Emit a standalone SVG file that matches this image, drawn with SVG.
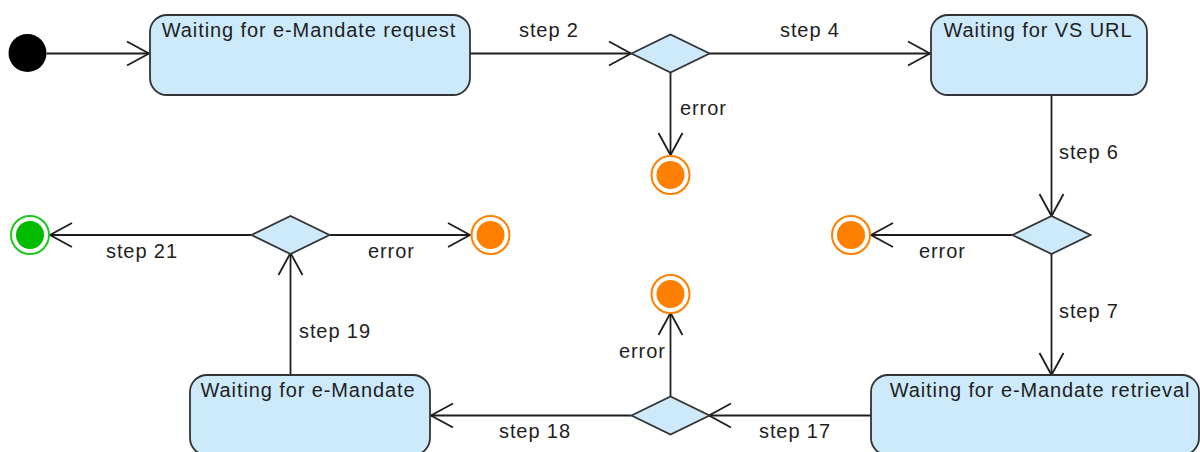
<svg xmlns="http://www.w3.org/2000/svg" width="1200" height="452" viewBox="0 0 1200 452">
  <defs>
    <style>
      .state { fill: #cdeafd; stroke: #333333; stroke-width: 1.8; }
      .decision { fill: #cdeafd; stroke: #333333; stroke-width: 1.8; }
      .edge { fill: none; stroke: #1e1e1e; stroke-width: 1.8; marker-end: url(#open-arrow); }
      .name { font-family: "Liberation Sans", Arial, sans-serif; font-size: 20px; letter-spacing: 0.9px; fill: #1e1e1e; text-anchor: middle; }
      .label { font-family: "Liberation Sans", Arial, sans-serif; font-size: 20px; letter-spacing: 0.9px; fill: #1e1e1e; }
      .err-ring { fill: #ffffff; stroke: #ff8000; stroke-width: 2; }
      .err-dot { fill: #ff8000; }
      .ok-ring { fill: #ffffff; stroke: #22c422; stroke-width: 2; }
      .ok-dot { fill: #00bb00; }
    </style>
    <marker id="open-arrow" markerUnits="userSpaceOnUse" viewBox="-26 -15 28 30" refX="0" refY="0" markerWidth="28" markerHeight="30" orient="auto" overflow="visible">
      <path d="M -22 -12 L 0 0 L -22 12" fill="none" stroke="#1e1e1e" stroke-width="1.8"/>
    </marker>
  </defs>

  <!-- transitions -->
  <g id="connectors">
    <path class="edge" d="M 46.5 53.5 L 149 53.5"/>
    <path class="edge" d="M 470 53.5 L 631 53.5"/>
    <path class="edge" d="M 709 53.5 L 930 53.5"/>
    <path class="edge" d="M 670.5 72.5 L 670.5 155"/>
    <path class="edge" d="M 1051.5 95 L 1051.5 216"/>
    <path class="edge" d="M 1012.5 235 L 871 235"/>
    <path class="edge" d="M 1051.5 254 L 1051.5 375"/>
    <path class="edge" d="M 871 415.5 L 709 415.5"/>
    <path class="edge" d="M 670.5 396.5 L 670.5 313"/>
    <path class="edge" d="M 631.5 415.5 L 431 415.5"/>
    <path class="edge" d="M 290.5 375 L 290.5 253"/>
    <path class="edge" d="M 251.5 235 L 50 235"/>
    <path class="edge" d="M 329.5 235 L 470 235"/>

    <text class="label" x="519" y="37">step 2</text>
    <text class="label" x="780" y="37">step 4</text>
    <text class="label" x="680" y="115">error</text>
    <text class="label" x="1059" y="159">step 6</text>
    <text class="label" x="919" y="258">error</text>
    <text class="label" x="1059" y="318">step 7</text>
    <text class="label" x="759" y="438">step 17</text>
    <text class="label" x="619" y="358">error</text>
    <text class="label" x="499" y="438">step 18</text>
    <text class="label" x="299" y="338">step 19</text>
    <text class="label" x="106" y="258">step 21</text>
    <text class="label" x="368" y="258">error</text>
  </g>

  <!-- initial pseudo-state -->
  <g id="start">
    <circle cx="27.5" cy="53" r="19" fill="#000000"/>
  </g>

  <!-- states -->
  <g id="waiting-request">
    <rect class="state" x="150" y="15" width="320" height="80" rx="17" ry="17"/>
    <text class="name" x="309" y="37">Waiting for e-Mandate request</text>
  </g>
  <g id="waiting-vs-url">
    <rect class="state" x="931" y="15" width="216" height="80" rx="17" ry="17"/>
    <text class="name" x="1038" y="37">Waiting for VS URL</text>
  </g>
  <g id="waiting-retrieval">
    <rect class="state" x="871" y="375" width="328" height="80" rx="17" ry="17"/>
    <text class="name" x="1040" y="397">Waiting for e-Mandate retrieval</text>
  </g>
  <g id="waiting-mandate">
    <rect class="state" x="190" y="375" width="240" height="80" rx="17" ry="17"/>
    <text class="name" x="308" y="397">Waiting for e-Mandate</text>
  </g>

  <!-- decisions -->
  <g id="decision-1">
    <polygon class="decision" points="631.5,53.5 670.5,34.5 709.5,53.5 670.5,72.5"/>
  </g>
  <g id="decision-2">
    <polygon class="decision" points="1012.5,235 1051.5,216 1090.5,235 1051.5,254"/>
  </g>
  <g id="decision-3">
    <polygon class="decision" points="631.5,415.5 670.5,396.5 709.5,415.5 670.5,434.5"/>
  </g>
  <g id="decision-4">
    <polygon class="decision" points="251.5,235 290.5,216 329.5,235 290.5,254"/>
  </g>

  <!-- final states -->
  <g id="error-end-1">
    <circle class="err-ring" cx="670.5" cy="175" r="19"/>
    <circle class="err-dot" cx="670.5" cy="175" r="14"/>
  </g>
  <g id="error-end-2">
    <circle class="err-ring" cx="851" cy="235" r="19"/>
    <circle class="err-dot" cx="851" cy="235" r="14"/>
  </g>
  <g id="error-end-3">
    <circle class="err-ring" cx="670.5" cy="294" r="19"/>
    <circle class="err-dot" cx="670.5" cy="294" r="14"/>
  </g>
  <g id="error-end-4">
    <circle class="err-ring" cx="490.5" cy="235" r="19"/>
    <circle class="err-dot" cx="490.5" cy="235" r="14"/>
  </g>
  <g id="success-end">
    <circle class="ok-ring" cx="30" cy="235" r="19"/>
    <circle class="ok-dot" cx="30" cy="235" r="14"/>
  </g>
</svg>
